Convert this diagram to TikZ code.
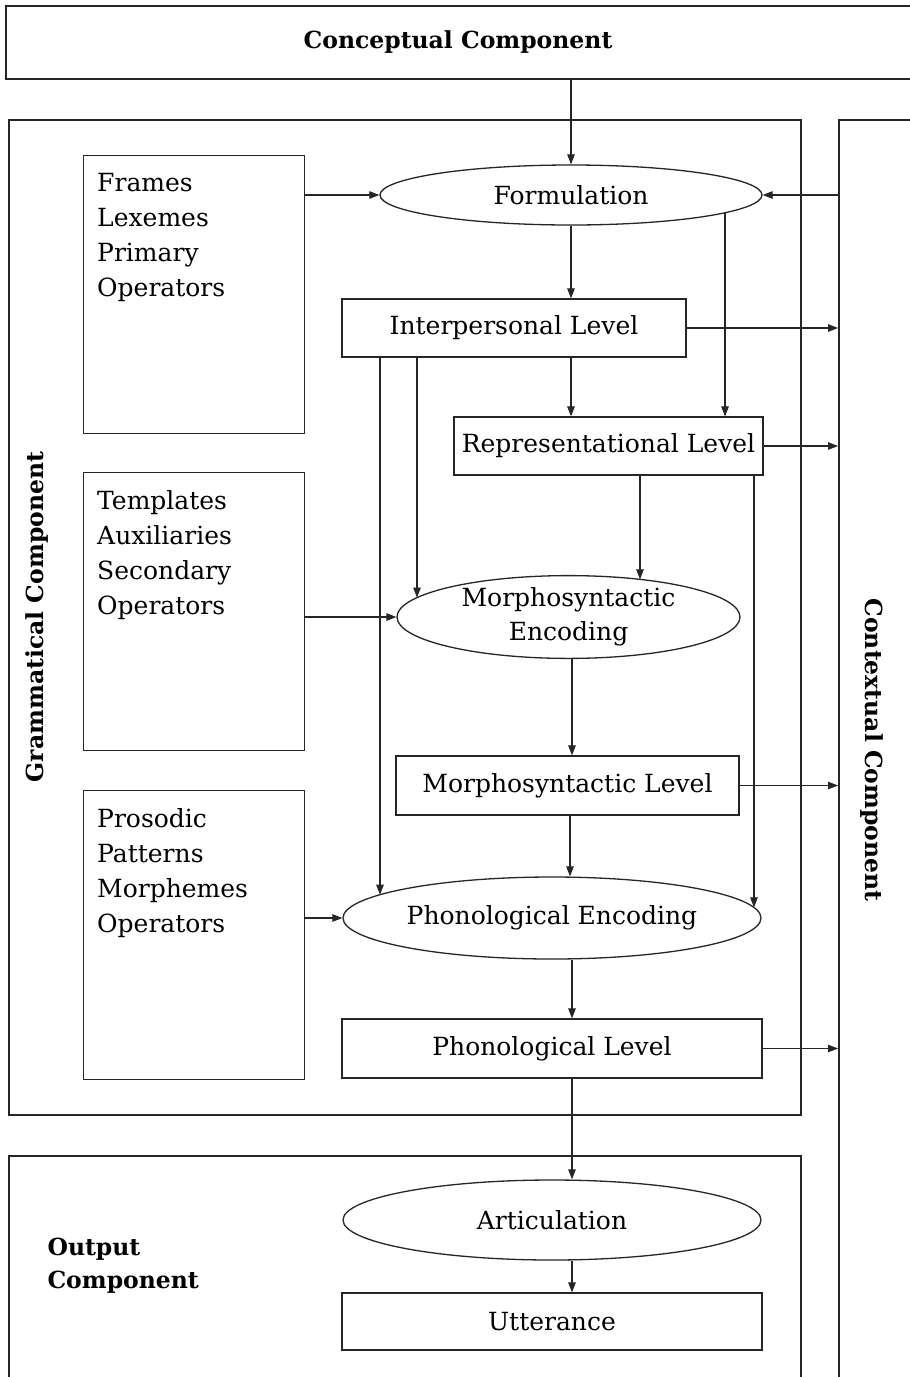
\documentclass[tikz,border=0pt]{standalone}
\usepackage{fontspec}
\setmainfont{DejaVu Serif}
\usetikzlibrary{shapes.geometric,arrows.meta,intersections}
\begin{document}
\begin{tikzpicture}[x=1pt,y=-1pt,
  txt/.style={font=\fontsize{25}{35}\selectfont},
  btxt/.style={font=\bfseries\fontsize{23.5}{33}\selectfont},
  box/.style={draw=black!85,line width=1.2pt,inner sep=0pt,txt},
  ell/.style={draw=black!85,ellipse,line width=1.3pt,inner sep=0pt,txt},
  comp/.style={draw=black!85,line width=2pt,inner sep=0pt},
  arr/.style={draw=black!85,line width=1.1pt,-{Triangle[length=10pt,width=7.5pt]}}
]
\clip (0,0) rectangle (910,1377);
\fill[white] (0,0) rectangle (910,1377);
% components
\node[comp,anchor=north west,minimum width=907pt,minimum height=73pt] (cc) at (5,5) {};
\node[btxt] (cct) at (458,42) {Conceptual Component};
\node[comp,anchor=north west,minimum width=792pt,minimum height=995pt] (gc) at (8,119) {};
\node[btxt,rotate=90] (gct) at (37,617) {Grammatical Component};
\node[comp,anchor=north west,minimum width=80pt,minimum height=1300pt] (xc) at (838,119) {};
\node[btxt,rotate=-90] (xct) at (872,750) {Contextual Component};
\node[comp,anchor=north west,minimum width=792pt,minimum height=260pt] (oc) at (8,1155) {};
\node[btxt,anchor=west,align=left] (oct) at (44,1266) {Output\\Component};
% source boxes
\node[box,anchor=north west,minimum width=221pt,minimum height=278pt] (fr) at (83,155) {};
\node[txt,anchor=north west,align=left,inner sep=0pt] (frt) at (97,173) {Frames\\Lexemes\\Primary\\Operators};
\node[box,anchor=north west,minimum width=221pt,minimum height=278pt] (tp) at (83,472) {};
\node[txt,anchor=north west,align=left,inner sep=0pt] (tpt) at (97,490) {Templates\\Auxiliaries\\Secondary\\Operators};
\node[box,anchor=north west,minimum width=221pt,minimum height=289pt] (pr) at (83,790) {};
\node[txt,anchor=north west,align=left,inner sep=0pt] (prt) at (97,808) {Prosodic\\Patterns\\Morphemes\\Operators};
% process nodes
\node[ell,minimum width=382pt,minimum height=60pt,name path=fo] (fo) at (571,195) {Formulation};
\node[box,minimum width=344pt,minimum height=58pt] (il) at (514,328) {Interpersonal Level};
\node[box,minimum width=309pt,minimum height=58pt] (rl) at (608.5,446) {Representational Level};
\node[ell,minimum width=343pt,minimum height=79pt,align=center,font=\fontsize{25}{34}\selectfont,name path=me] (me) at (568.5,617) {Morphosyntactic\\Encoding};
\node[box,minimum width=343pt,minimum height=59pt] (ml) at (567.5,785.5) {Morphosyntactic Level};
\node[ell,minimum width=418pt,minimum height=82pt,name path=pe] (pe) at (552,918) {Phonological Encoding};
\node[box,minimum width=420pt,minimum height=59pt] (pl) at (552,1048.5) {Phonological Level};
\node[ell,minimum width=418pt,minimum height=80pt] (ar) at (552,1220) {Articulation};
\node[box,minimum width=420pt,minimum height=57pt] (ut) at (552,1321.5) {Utterance};
% helper coordinates for vertical connectors
\path[name path=v1] (725,200) -- (725,240);
\path[name intersections={of=v1 and fo,by=foA}];
\path[name path=v2] (417,560) -- (417,610);
\path[name intersections={of=v2 and me,by=meA}];
\path[name path=v3] (640,560) -- (640,610);
\path[name intersections={of=v3 and me,by=meB}];
\path[name path=v4] (380,860) -- (380,915);
\path[name intersections={of=v4 and pe,by=peA}];
\path[name path=v5] (754,860) -- (754,915);
\path[name intersections={of=v5 and pe,by=peB}];
% connectors
\draw[arr] (cc.south -| fo.north) -- (fo.north);
\draw[arr] (fr.east |- fo.west) -- (fo.west);
\draw[arr] (xc.west |- fo.east) -- (fo.east);
\draw[arr] (fo.south) -- (il.north -| fo.south);
\draw[arr] (foA) -- (rl.north -| foA);
\draw[arr] (il.east) -- (xc.west |- il.east);
\draw[arr] (il.south -| fo.south) -- (rl.north -| fo.south);
\draw[arr] (il.south -| meA) -- (meA);
\draw[arr] (il.south -| peA) -- (peA);
\draw[arr] (rl.east) -- (xc.west |- rl.east);
\draw[arr] (rl.south -| meB) -- (meB);
\draw[arr] (rl.south -| peB) -- (peB);
\draw[arr] (tp.east |- me.west) -- (me.west);
\draw[arr] (me.south -| 572,0) -- (ml.north -| 572,0);
\draw[arr] (ml.east) -- (xc.west |- ml.east);
\draw[arr] (ml.south -| 570,0) -- (pe.north -| 570,0);
\draw[arr] (pr.east |- pe.west) -- (pe.west);
\draw[arr] (pe.south -| 572,0) -- (pl.north -| 572,0);
\draw[arr] (pl.east) -- (xc.west |- pl.east);
\draw[arr] (pl.south -| 572,0) -- (ar.north -| 572,0);
\draw[arr] (ar.south -| 572,0) -- (ut.north -| 572,0);
\end{tikzpicture}
\end{document}
